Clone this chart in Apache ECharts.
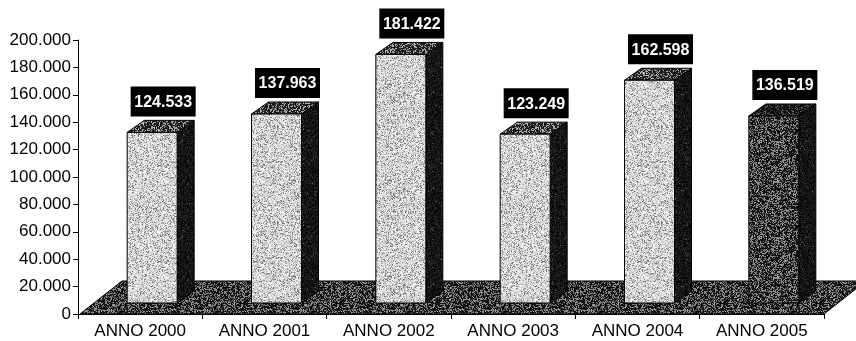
<!DOCTYPE html>
<html>
<head>
<meta charset="utf-8">
<script src="https://cdn.jsdelivr.net/npm/echarts@6/dist/echarts.min.js"></script>
<style>
  html, body { margin: 0; padding: 0; background: #fff; }
  #chart { width: 856px; height: 341px; }
</style>
</head>
<body>
<div id="chart"></div>
<script>
// Yearly totals
const categories = ['ANNO 2000', 'ANNO 2001', 'ANNO 2002', 'ANNO 2003', 'ANNO 2004', 'ANNO 2005'];
const values = [124533, 137963, 181422, 123249, 162598, 136519];
const yMin = 0;
const yMax = 200000;
const yStep = 20000;

// Italian thousands separator: 124533 -> "124.533"
function fmt(v) {
  return String(Math.round(v)).replace(/\B(?=(\d{3})+(?!\d))/g, '.');
}

// Deterministic stipple texture used for the printed-halftone look
function hash(x, y, s) {
  const t = Math.sin(x * 12.9898 + y * 78.233 + s * 37.719) * 43758.5453;
  return t - Math.floor(t);
}
function stipple(lo, hi, darkShare, seed) {
  const size = 96;
  const c = document.createElement('canvas');
  c.width = size; c.height = size;
  const ctx = c.getContext('2d');
  const img = ctx.createImageData(size, size);
  for (let y = 0; y < size; y++) {
    for (let x = 0; x < size; x++) {
      const h = hash(x, y, seed);
      const g = hash(y, x, seed + 3);
      const v = h < darkShare ? lo + g * 40 : hi - g * 70;
      const i = (y * size + x) * 4;
      img.data[i] = img.data[i + 1] = img.data[i + 2] = Math.max(0, Math.min(255, v));
      img.data[i + 3] = 255;
    }
  }
  ctx.putImageData(img, 0, 0);
  return { image: c, repeat: 'repeat' };
}

const fillFront = stipple(110, 255, 0.18, 1);
const fillTop = stipple(10, 200, 0.65, 2);
const fillSide = stipple(0, 110, 0.97, 3);
const fillFloor = stipple(0, 170, 0.62, 4);
const fillDarkFront = stipple(0, 170, 0.6, 5);
const fillDarkTop = stipple(0, 120, 0.8, 6);

const highlightIndex = categories.length - 1;

// Bar geometry (pixels)
const BAR_W = 50;
const BAR_SHIFT_X = 12;   // bars stand a little behind the floor's front edge
const BAR_SHIFT_Y = -11;
const DEPTH_X = 17;
const DEPTH_Y = -12;
const FLOOR_DX = 42;
const FLOOR_DY = -33;

function renderBar(params, api) {
  const idx = api.value(0);
  const val = api.value(1);
  const base = api.coord([idx, 0]);
  const top = api.coord([idx, val]);
  const cx = base[0] + BAR_SHIFT_X;
  const x0 = cx - BAR_W / 2;
  const x1 = cx + BAR_W / 2;
  const yb = base[1] + BAR_SHIFT_Y;
  const yt = top[1] + BAR_SHIFT_Y;
  const dark = idx === highlightIndex;

  const boxW = 65, boxH = 30;
  const boxCx = cx + 11;
  const boxY = yt - 16 - boxH;

  return {
    type: 'group',
    children: [
      {
        type: 'polygon',
        shape: { points: [[x1, yt], [x1 + DEPTH_X, yt + DEPTH_Y], [x1 + DEPTH_X, yb + DEPTH_Y], [x1, yb]] },
        style: { fill: fillSide, stroke: '#000', lineWidth: 1 }
      },
      {
        type: 'polygon',
        shape: { points: [[x0, yt], [x0 + DEPTH_X, yt + DEPTH_Y], [x1 + DEPTH_X, yt + DEPTH_Y], [x1, yt]] },
        style: { fill: dark ? fillDarkTop : fillTop, stroke: '#000', lineWidth: 1 }
      },
      {
        type: 'rect',
        shape: { x: x0, y: yt, width: BAR_W, height: yb - yt },
        style: { fill: dark ? fillDarkFront : fillFront, stroke: '#000', lineWidth: 1 }
      },
      {
        type: 'rect',
        shape: { x: boxCx - boxW / 2, y: boxY, width: boxW, height: boxH },
        style: { fill: '#000' }
      },
      {
        type: 'text',
        style: {
          x: boxCx, y: boxY + boxH / 2 + 1,
          text: fmt(val),
          fill: '#fff',
          font: 'bold 16px "Liberation Sans", Arial, sans-serif',
          align: 'center', verticalAlign: 'middle'
        }
      }
    ]
  };
}

function renderFloor(params, api) {
  const cs = params.coordSys;
  const x0 = cs.x + 2;
  const x1 = cs.x + cs.width;
  const yb = cs.y + cs.height;
  return {
    type: 'polygon',
    shape: { points: [[x0, yb], [x0 + FLOOR_DX, yb + FLOOR_DY], [x1 + FLOOR_DX, yb + FLOOR_DY], [x1, yb]] },
    style: { fill: fillFloor, stroke: '#000', lineWidth: 1 }
  };
}

const chart = echarts.init(document.getElementById('chart'), null, { renderer: 'canvas' });
chart.setOption({
  animation: false,
  backgroundColor: '#fff',
  grid: { left: 78, right: 32, top: 40, bottom: 27 },
  xAxis: {
    type: 'category',
    data: categories,
    boundaryGap: true,
    axisLine: { show: true, lineStyle: { color: '#000', width: 1 } },
    axisTick: { show: true, length: 5, lineStyle: { color: '#000' } },
    axisLabel: {
      color: '#000', margin: 9,
      fontFamily: '"Liberation Sans", Arial, sans-serif', fontSize: 17
    },
    z: 5
  },
  yAxis: {
    type: 'value',
    min: yMin, max: yMax, interval: yStep,
    axisLine: { show: true, lineStyle: { color: '#000', width: 1 } },
    axisTick: { show: true, length: 5, lineStyle: { color: '#000' } },
    splitLine: { show: false },
    axisLabel: {
      color: '#000', margin: 7,
      fontFamily: '"Liberation Sans", Arial, sans-serif', fontSize: 17,
      formatter: fmt
    },
    z: 5
  },
  series: [
    {
      type: 'custom',
      name: 'floor',
      renderItem: renderFloor,
      data: [[0, 0]],
      clip: false,
      silent: true,
      z: 1
    },
    {
      type: 'custom',
      name: 'totale',
      renderItem: renderBar,
      encode: { x: 0, y: 1 },
      data: values.map((v, i) => [i, v]),
      clip: false,
      z: 2
    }
  ]
});
</script>
</body>
</html>
